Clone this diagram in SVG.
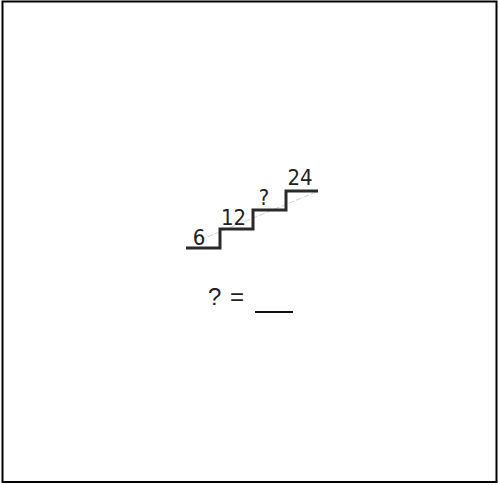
<svg xmlns="http://www.w3.org/2000/svg" width="499" height="485" viewBox="0 0 499 485">
<style>
.lbl{font-family:"DejaVu Sans Condensed","DejaVu Sans",sans-serif;font-size:22px;fill:#222}
.q{font-family:"Liberation Sans",Arial,sans-serif;font-size:24px;fill:#222}
</style>
<rect x="0" y="0" width="499" height="485" fill="#fff"/>
<rect x="2.5" y="1.5" width="494" height="480.5" fill="none" stroke="#000" stroke-width="2"/>
<g id="stairs">
<line x1="200" y1="240" x2="316" y2="192" stroke="#bbb" stroke-width="0.7" stroke-dasharray="6,2"/>
<path d="M186 248 H220 V229 H253 V210 H286 V191 H318" fill="none" stroke="#2a2a2a" stroke-width="3"/>
</g>
<g id="labels">
<text class="lbl" x="199" y="245" text-anchor="middle">6</text>
<text class="lbl" x="233.5" y="225" text-anchor="middle">12</text>
<text class="lbl" x="264" y="205" text-anchor="middle">?</text>
<text class="lbl" x="300" y="185" text-anchor="middle">24</text>
</g>
<g id="question">
<text class="q" x="208" y="305">?<tspan x="230">=</tspan></text>
<line x1="255" y1="312" x2="293" y2="312" stroke="#111" stroke-width="2"/>
</g>
</svg>
